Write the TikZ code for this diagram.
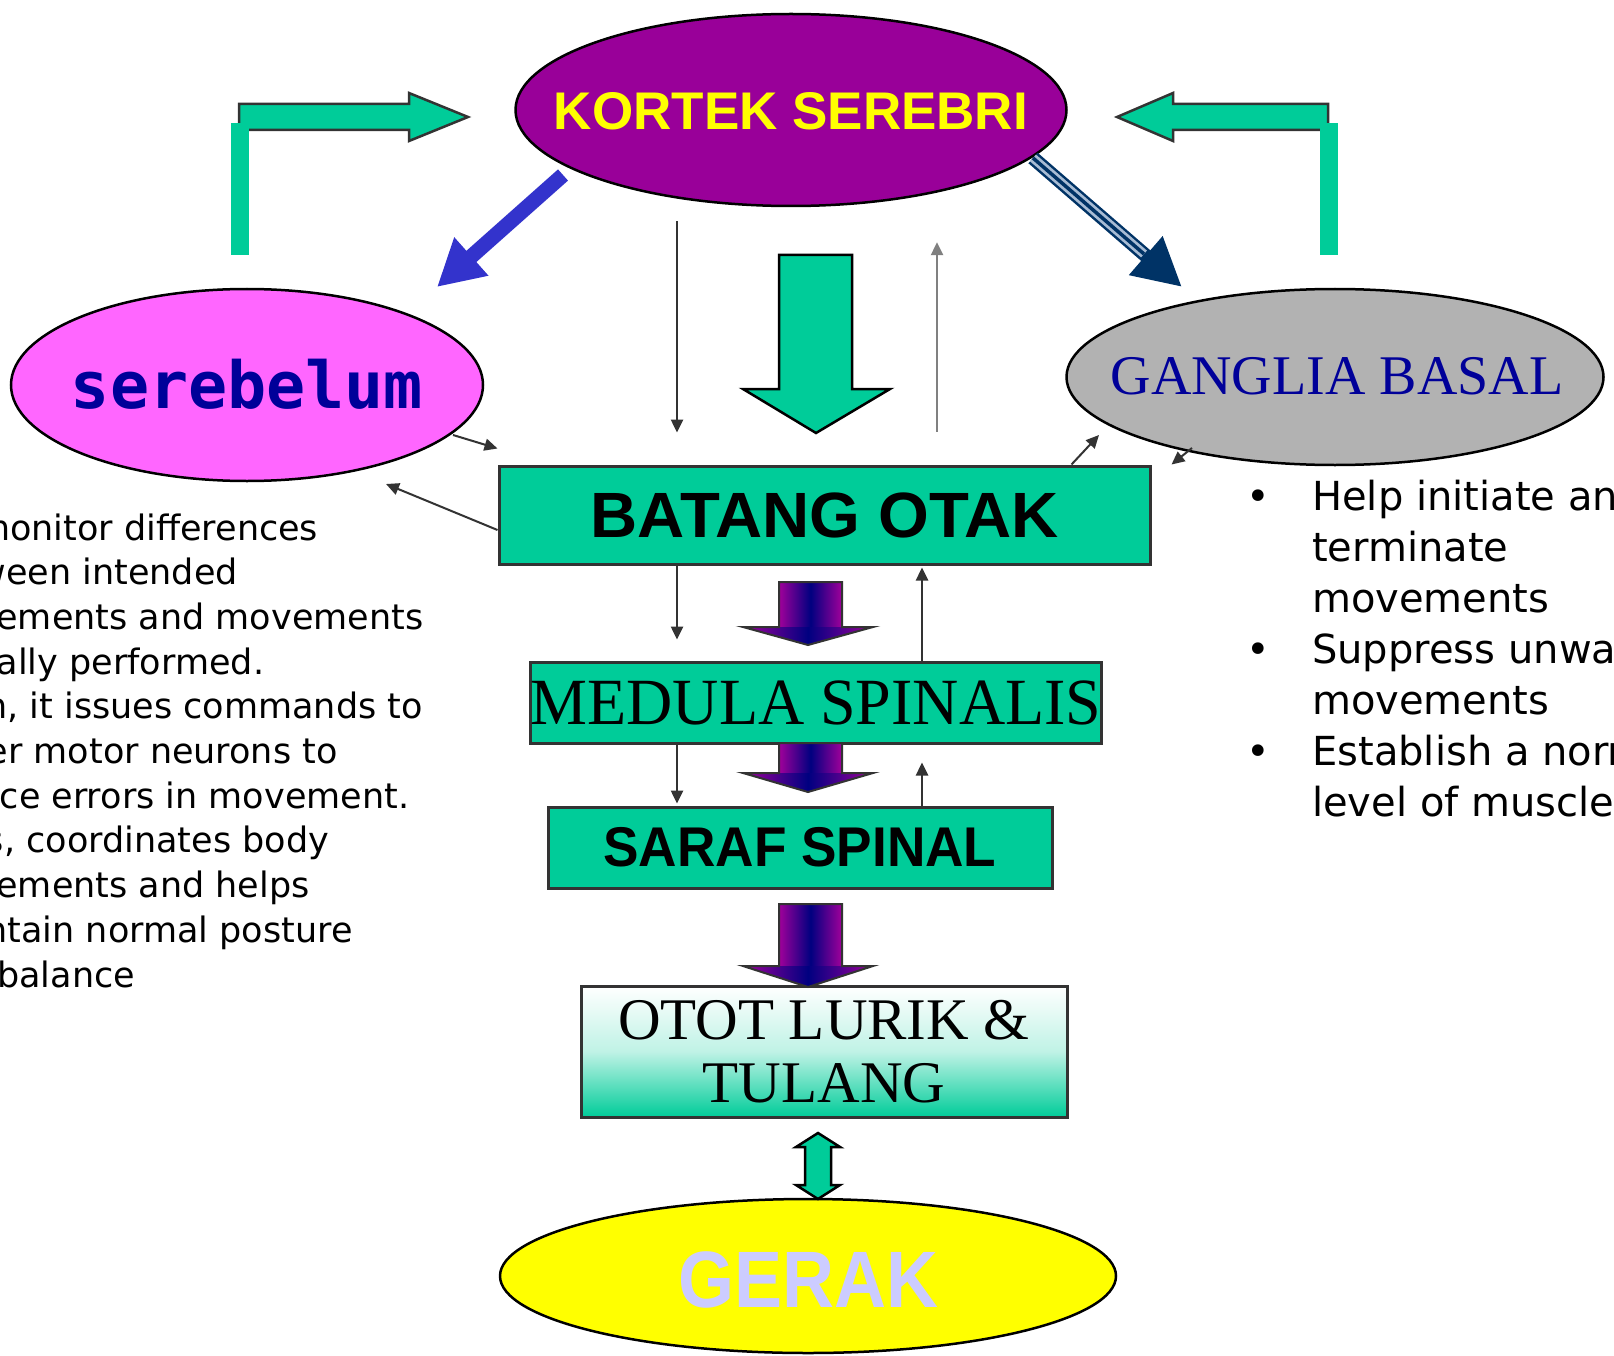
\documentclass[tikz,border=0pt]{standalone}
\usepackage{fontspec}
\usepackage{graphicx}
\newfontfamily\lsans{Liberation Sans}
\newfontfamily\lserif{Liberation Serif}
\newfontfamily\dvsans{DejaVu Sans}
\newfontfamily\dvmono{DejaVu Sans Mono}
\usetikzlibrary{shapes.geometric,arrows.meta,calc}
\definecolor{tgreen}{HTML}{00CC99}
\definecolor{kpurple}{HTML}{990099}
\definecolor{spink}{HTML}{FF66FF}
\definecolor{ggray}{HTML}{B2B2B2}
\definecolor{gyellow}{HTML}{FFFF00}
\definecolor{tnavy}{HTML}{000099}
\definecolor{barrowc}{HTML}{3333CC}
\definecolor{darrowc}{HTML}{003366}
\definecolor{dlight}{HTML}{A8BCD4}
\definecolor{lav}{HTML}{CCCCFF}
\definecolor{edgec}{HTML}{333333}
\definecolor{gpurple}{HTML}{A0009A}
\definecolor{gnavy}{HTML}{000080}
\tikzset{
  ell/.style={ellipse, draw=black, line width=2.5pt, inner sep=0pt},
  boxnode/.style={rectangle, draw=edgec, line width=3pt, fill=tgreen, inner sep=0pt},
  lbl/.style={inner sep=0pt},
  thinarrow/.style={draw=edgec, line width=2.5pt, -{Triangle[length=13pt,width=12pt]}},
  blockarrow/.style={fill=tgreen, draw=black, line width=2.5pt, line join=miter},
  gradfill/.style={left color=gpurple, right color=gpurple, middle color=gnavy},
  gradedge/.style={draw=edgec, line width=2pt, line join=miter},
  ltext/.style={anchor=base west, inner sep=0pt, font=\dvsans\fontsize{35}{35}\selectfont},
  rtext/.style={anchor=base west, inner sep=0pt, font=\dvsans\fontsize{40}{40}\selectfont},
}
\begin{document}
\begin{tikzpicture}[x=1pt,y=-1pt]
\useasboundingbox (0,0) rectangle (1614,1356);
\fill[white] (0,0) rectangle (1614,1356);
\clip (0,0) rectangle (1614,1356);

% ellipses
\node[ell, fill=kpurple, minimum width=551pt, minimum height=192pt] (kortek) at (791,110) {};
\node[lbl, text=gyellow, font=\lsans\bfseries\fontsize{53}{53}\selectfont] (kortekt) at (791,111) {KORTEK SEREBRI};

\node[ell, fill=spink, minimum width=472pt, minimum height=192pt] (sereb) at (247,385) {};
\node[lbl, text=tnavy, font=\dvmono\bfseries\fontsize{65}{65}\selectfont] (serebt) at (247,384) {serebelum};

\node[ell, fill=ggray, minimum width=537pt, minimum height=176pt] (ganglia) at (1335,377) {};
\node[lbl, text=tnavy, font=\lserif\fontsize{56}{56}\selectfont] (gangliat) at (1337,376) {GANGLIA BASAL};

\node[ell, fill=gyellow, minimum width=616pt, minimum height=154pt] (gerak) at (808,1276) {};
\node[lbl, text=lav, font=\lsans\bfseries\fontsize{80}{80}\selectfont] (gerakt) at (808,1280) {\scalebox{0.9}[1]{GERAK}};

% boxes
\node[boxnode, minimum width=651pt, minimum height=98pt, font=\lsans\bfseries\fontsize{64}{64}\selectfont] (batang) at (824.5,515) {\scalebox{1.02}[1]{BATANG OTAK}};
\node[boxnode, minimum width=570pt, minimum height=81pt, font=\lserif\fontsize{66}{66}\selectfont] (medula) at (816,702.5) {\scalebox{0.97}[1]{MEDULA SPINALIS}};
\node[boxnode, minimum width=504pt, minimum height=81pt, font=\lsans\bfseries\fontsize{56}{56}\selectfont] (saraf) at (800,847.5) {\scalebox{0.95}[1]{SARAF SPINAL}};
\node[boxnode, top color=white, bottom color=tgreen, middle color=tgreen!25!white, minimum width=486pt, minimum height=131pt, align=center, font=\lserif\fontsize{59}{63}\selectfont] (otot) at (824,1051.5) {OTOT LURIK \&\\TULANG};

% bent arrows
\path[blockarrow, draw=edgec] (239,104) -- (409,104) -- (409,93) -- (468,117) -- (409,141) -- (409,130) -- (239,130) -- cycle;
\fill[tgreen] (231,123) rectangle (249,255);
\path[blockarrow, draw=edgec] (1328,104) -- (1173,104) -- (1173,93) -- (1117,117) -- (1173,141) -- (1173,130) -- (1328,130) -- cycle;
\fill[tgreen] (1320,123) rectangle (1338,255);

% kortek -> serebelum, kortek -> ganglia
\draw[barrowc, line width=15pt, -{Triangle[length=46pt,width=48pt]}] (563,175) -- (437,287);
\draw[darrowc, line width=14pt, -{Triangle[length=48pt,width=48pt]}] (1033,158) -- (1182,287);
\draw[dlight, line width=9pt] (1033,158) -- (1144,254);
\draw[darrowc, line width=3.5pt] (1033,158) -- (1144,254);

% big arrow kortek -> batang
\path[blockarrow] (779,255) -- (852,255) -- (852,389) -- (890,389) -- (816,433) -- (743,389) -- (779,389) -- cycle;

% gradient arrows
\foreach \t/\b/\p in {582/627/645, 743/773/792, 904/966/987} {
  \shade[gradfill] (779,\t) rectangle (842,\b);
  \shade[gradfill] (743,\b) -- (873,\b) -- (808,\p) -- cycle;
  \draw[gradedge] (779,\t) -- (842,\t) -- (842,\b) -- (873,\b) -- (808,\p) -- (743,\b) -- (779,\b) -- cycle;
}

% double arrow otot <-> gerak
\path[blockarrow] (818,1133) -- (840,1147) -- (831,1147) -- (831,1185) -- (840,1185) -- (818,1199) -- (796,1185) -- (805,1185) -- (805,1147) -- (796,1147) -- cycle;

% thin arrows
\coordinate (xa) at (677,0);
\coordinate (xb) at (937,0);
\coordinate (xc) at (922,0);
\draw[thinarrow, shorten <=14pt, shorten >=32pt] (kortek.south -| xa) -- (batang.north -| xa);
\draw[thinarrow, draw=gray, shorten <=33pt, shorten >=35pt] (batang.north -| xb) -- (kortek.south -| xb);
\draw[thinarrow, shorten >=21pt] (batang.south -| xa) -- (medula.north -| xa);
\draw[thinarrow, shorten >=2pt] (medula.north -| xc) -- (batang.south -| xc);
\draw[thinarrow, shorten >=2pt] (medula.south -| xa) -- (saraf.north -| xa);
\draw[thinarrow, shorten >=18pt] (saraf.north -| xc) -- (medula.south -| xc);

\coordinate (s1) at (453,435);
\coordinate (s2) at (386,484);
\coordinate (g1) at (1099,435);
\coordinate (g2) at (1192,448);
\draw[thinarrow, line width=2pt] (s1) -- ($(batang.north west)+(0,-16)$);
\draw[thinarrow, line width=2pt] ($(batang.west)+(0,15)$) -- (s2);
\draw[thinarrow, line width=2pt] ($(batang.north east)+(-80,0)$) -- (g1);
\draw[thinarrow, line width=2pt] (g2) -- ($(batang.north east)+(20,0)$);

% left text
\node[ltext] (lt0) at (-72,540) {To monitor differences};
\foreach \l [count=\i from 1] in {between intended, movements and movements, actually performed., {Then, it issues commands to}, upper motor neurons to, reduce errors in movement., {Thus, coordinates body}, movements and helps, maintain normal posture, and balance} {
  \node[ltext] (lt\i) at (-80,540+44.7*\i) {\l};
}

% right text
\foreach \l [count=\i from 0] in {Help initiate and, terminate, movements, Suppress unwanted, movements, Establish a normal, level of muscle tone} {
  \node[rtext] (rt\i) at (1312,510+51*\i) {\l};
}
\node[rtext] (b1) at (1246,510) {•};
\node[rtext] (b2) at (1246,663) {•};
\node[rtext] (b3) at (1246,765) {•};
\end{tikzpicture}
\end{document}
